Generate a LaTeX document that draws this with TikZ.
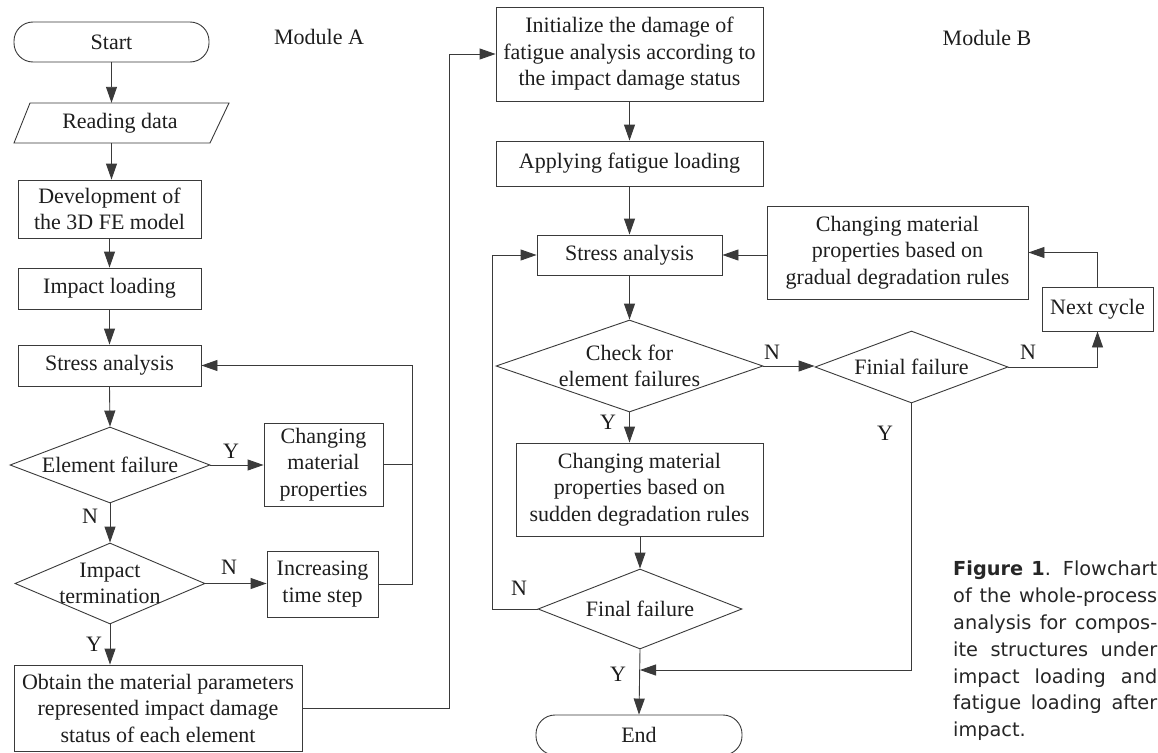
\documentclass[tikz,border=0pt]{standalone}
\usepackage{fontspec}
\setmainfont{Liberation Serif}
\newfontfamily\capfont{DejaVu Sans}
\usetikzlibrary{arrows.meta,shapes.geometric,calc}
\definecolor{ink}{HTML}{1E1E1E}
\definecolor{wire}{HTML}{3A3A3A}
\begin{document}
\begin{tikzpicture}[x=1pt,y=-1pt,
  every node/.style={text=ink,font=\fontsize{22}{26.5}\selectfont,inner sep=0pt,align=center},
  box/.style={draw=wire,line width=0.9pt,rectangle},
  term/.style={draw=wire,line width=0.9pt,rectangle,rounded corners=19pt},
  dia/.style={draw=wire,line width=0.9pt,diamond,inner sep=0pt},
  arr/.style={draw=wire,line width=0.9pt,-{Triangle[length=16pt,width=11pt]}},
  ln/.style={draw=wire,line width=0.9pt},
  lab/.style={font=\fontsize{22}{26.5}\selectfont}
]
\useasboundingbox (0,0) rectangle (1158,752);
\fill[white] (0,0) rectangle (1158,752);

% ---------- Module A ----------
\node (modA) at (319,37) {Module A};
\node[term,minimum width=195pt,minimum height=40pt] (start) at (111.5,42) {Start};
\node[minimum width=190pt,minimum height=40pt] (read) at (120,123) {Reading data};
\draw[wire,line width=0.9pt] (14,143) -- (30,103) -- (229,103) -- (210,143) -- cycle;
\node[box,minimum width=183pt,minimum height=58pt] (dev) at (109.5,209) {Development of\\the 3D FE model};
\node[box,minimum width=183pt,minimum height=41pt] (imp) at (109.5,288.5) {Impact loading};
\node[box,minimum width=183pt,minimum height=41pt] (sa1) at (109.5,365.5) {Stress analysis};
\node[dia,minimum width=200pt,minimum height=76pt,label={[lab]center:Element failure}] (ef) at (110,465) {};
\node[box,minimum width=119pt,minimum height=83pt] (chg1) at (323.5,464.5) {Changing\\material\\properties};
\node[dia,minimum width=190pt,minimum height=81pt,label={[lab,align=center]center:Impact\\termination}] (it) at (110,583.5) {};
\node[box,minimum width=111pt,minimum height=66pt] (inc) at (322.5,584) {Increasing\\time step};
\node[box,minimum width=288pt,minimum height=86pt] (obt) at (158,708) {Obtain the material parameters\\represented impact damage\\status of each element};

\draw[arr] (start.south) -- (start.south |- read.north);
\draw[arr] (read.south -| start.south) -- (start.south |- dev.north);
\draw[arr] (dev.south) -- (imp.north);
\draw[arr] (imp.south) -- (sa1.north);
\draw[arr] (sa1.south) -- (ef.north);
\draw[arr] (ef.east) -- (chg1.west |- ef.east);
\draw[arr] (ef.south) -- (it.north);
\draw[arr] (it.east) -- (inc.west |- it.east);
\draw[arr] (it.south) -- (obt.north -| it.south);
\coordinate (lr) at (412,365.5);
\draw[arr] (inc.east) -| (lr) -- (sa1.east);
\draw[ln] (chg1.east) -- (chg1.east -| lr);
\coordinate (rx) at (449,54);

\node (y1) at (231,451) {Y};
\node (n1) at (90,516) {N};
\node (n2) at (229,567) {N};
\node (y2) at (94,644) {Y};

% ---------- Module B ----------
\node (modB) at (987,38) {Module B};
\node[box,minimum width=267pt,minimum height=94pt] (init) at (629.5,54) {Initialize the damage of\\fatigue analysis according to\\the impact damage status};
\node[box,minimum width=267pt,minimum height=45pt] (app) at (629.5,163.5) {Applying fatigue loading};
\node[box,minimum width=185pt,minimum height=40pt] (sa2) at (629.5,255) {Stress analysis};
\node[box,minimum width=261pt,minimum height=93pt] (grad) at (897.5,252.5) {Changing material\\properties based on\\gradual degradation rules};
\node[box,minimum width=111pt,minimum height=44pt] (next) at (1097.5,309) {Next cycle};
\node[dia,minimum width=267pt,minimum height=92pt,label={[lab,align=center]center:Check for\\element failures}] (chk) at (629.5,366) {};
\node[dia,minimum width=193pt,minimum height=72pt,label={[lab]center:Finial failure}] (fin) at (911.5,367) {};
\node[box,minimum width=247pt,minimum height=93pt] (sud) at (639.5,489.5) {Changing material\\properties based on\\sudden degradation rules};
\node[dia,minimum width=204pt,minimum height=80pt,label={[lab]center:Final failure}] (ff) at (640,609) {};
\node[term,minimum width=206pt,minimum height=40pt] (end) at (639,735) {End};

\draw[arr] (obt.east) -| (rx) -- (init.west);
\draw[arr] (init.south) -- (app.north);
\draw[arr] (app.south) -- (sa2.north);
\draw[arr] (sa2.south) -- (chk.north);
\draw[arr] (chk.south) -- (chk.south |- sud.north);
\draw[arr] (sud.south -| ff.north) -- (ff.north);
\draw[arr] (ff.south) -- (end.north);
\coordinate (lx) at (492,255);
\draw[arr] (ff.west) -| (lx) -- (sa2.west);
\draw[arr] (chk.east) -- (fin.west |- chk.east);
\draw[arr] (fin.east) -| (next.south);
\draw[arr] (next.north) |- (grad.east);
\draw[arr] (grad.west |- sa2.east) -- (sa2.east);
\coordinate (ej) at (640,670);
\draw[arr] (fin.south) |- (ej);

\node (y3) at (608,422) {Y};
\node (n3) at (519,588) {N};
\node (y4) at (618,674) {Y};
\node (n4) at (772,352) {N};
\node (n5) at (1028,352) {N};
\node (y5) at (885,433) {Y};

% ---------- caption ----------
\node[anchor=north west,align=justify,text=black!85] (cap) at (953,561) {\parbox[t]{204pt}{\capfont\fontsize{19.3}{26.8}\selectfont\hbadness=10000\hfuzz=20pt\parindent=0pt
\textbf{Figure 1}. Flowchart\linebreak of the whole-process\linebreak analysis for compos-\linebreak ite structures under\linebreak impact loading and\linebreak fatigue loading after\linebreak impact.}};
\end{tikzpicture}
\end{document}
